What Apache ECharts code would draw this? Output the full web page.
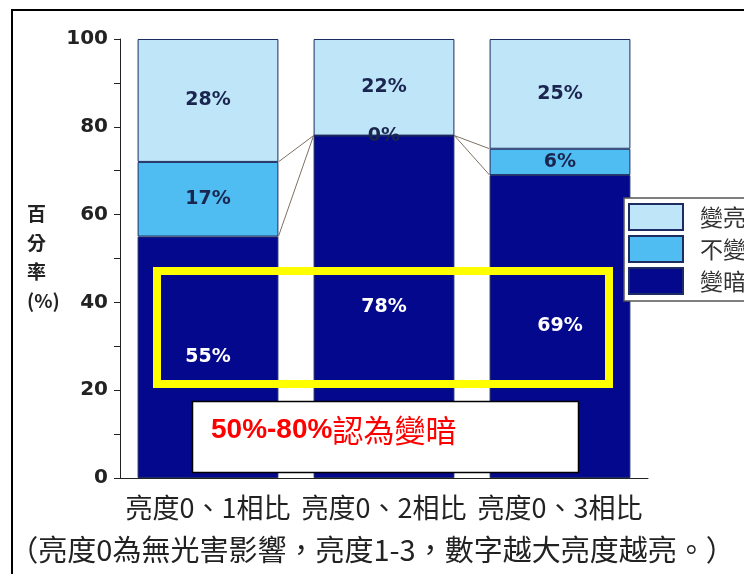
<!DOCTYPE html>
<html>
<head>
<meta charset="utf-8">
<style>
  html, body { margin: 0; padding: 0; background: #fff; }
  #chart { width: 744px; height: 574px; }
</style>
<script src="https://cdn.jsdelivr.net/npm/echarts@6/dist/echarts.min.js"></script>
</head>
<body>
<div id="chart"></div>
<script>
// Comparison groups and the share (%) of responses in each group
const categories = ['亮度0、1相比', '亮度0、2相比', '亮度0、3相比'];
const darker = [55, 78, 69];     // 變暗
const unchanged = [17, 0, 6];    // 不變
const brighter = [28, 22, 25];   // 變亮
const seriesNames = ['變亮', '不變', '變暗'];
const note = '（亮度0為無光害影響，亮度1-3，數字越大亮度越亮。）';
const callout = '50%-80%';
const calloutTail = '認為變暗';

const chart = echarts.init(document.getElementById('chart'), null, { renderer: 'canvas' });

const COLORS = { light: '#bfe5f8', mid: '#4fbdf2', dark: '#03088c' };
const NUM_FONT = "'DejaVu Sans', sans-serif";
const CJK_FONT = "'Noto Sans CJK TC', 'Noto Sans CJK SC', sans-serif";
const BAR_RATIO = 0.8;

const segLabel = (color) => ({
  show: true,
  position: 'inside',
  formatter: (p) => p.value + '%',
  color: color,
  fontFamily: NUM_FONT,
  fontWeight: 'bold',
  fontSize: 19
});

const border = { borderColor: '#1d2c63', borderWidth: 1 };

// Line segments joining the tops of the lower two segments of neighbouring bars
const joinData = categories.slice(0, -1).map((c, i) => [
  i,
  darker[i], darker[i] + unchanged[i],
  darker[i + 1], darker[i + 1] + unchanged[i + 1]
]);

chart.setOption({
  animation: false,
  grid: { left: 120, right: 96, top: 39, bottom: 96, containLabel: false },
  legend: {
    data: seriesNames,
    orient: 'vertical',
    left: 624,
    top: 198,
    padding: [5, 4, 6, 4],
    itemWidth: 54,
    itemHeight: 26,
    itemGap: 4,
    icon: 'rect',
    backgroundColor: '#fff',
    borderColor: '#555',
    borderWidth: 1.5,
    textStyle: { fontFamily: CJK_FONT, fontSize: 23, color: '#333', padding: [0, 0, 0, 12] },
    z: 20
  },
  xAxis: {
    type: 'category',
    data: categories,
    axisLine: { lineStyle: { color: '#222', width: 1 } },
    axisTick: { alignWithLabel: true, length: 5, lineStyle: { color: '#222' } },
    axisLabel: {
      interval: 0,
      margin: 16,
      color: '#222',
      fontFamily: CJK_FONT,
      fontSize: 27
    }
  },
  yAxis: {
    type: 'value',
    min: 0,
    max: 100,
    interval: 20,
    axisLine: { show: true, lineStyle: { color: '#222', width: 1 } },
    axisTick: { show: true, length: 6, lineStyle: { color: '#222' } },
    minorTick: { show: true, splitNumber: 2, length: 6, lineStyle: { color: '#222' } },
    splitLine: { show: false },
    axisLabel: {
      margin: 12,
      color: '#222',
      fontFamily: NUM_FONT,
      fontWeight: 'bold',
      fontSize: 20
    }
  },
  series: [
    {
      name: '變暗', type: 'bar', stack: 'total', data: darker,
      barWidth: (BAR_RATIO * 100) + '%',
      itemStyle: Object.assign({ color: COLORS.dark }, border),
      label: segLabel('#ffffff'), z: 2
    },
    {
      name: '不變', type: 'bar', stack: 'total', data: unchanged,
      itemStyle: Object.assign({ color: COLORS.mid }, border),
      label: segLabel('#1a2550'), z: 2
    },
    {
      name: '變亮', type: 'bar', stack: 'total', data: brighter,
      itemStyle: Object.assign({ color: COLORS.light }, border),
      label: segLabel('#1a2550'), z: 2
    },
    {
      type: 'custom',
      silent: true,
      z: 3,
      data: joinData,
      encode: { x: 0, y: 1 },
      renderItem: (params, api) => {
        const i = api.value(0);
        const half = api.size([1, 0])[0] * BAR_RATIO / 2;
        const a1 = api.coord([i, api.value(1)]);
        const b1 = api.coord([i, api.value(2)]);
        const a2 = api.coord([i + 1, api.value(3)]);
        const b2 = api.coord([i + 1, api.value(4)]);
        const style = { stroke: '#7d7060', lineWidth: 1, fill: null };
        return {
          type: 'group',
          children: [
            { type: 'line', shape: { x1: a1[0] + half, y1: a1[1], x2: a2[0] - half, y2: a2[1] }, style },
            { type: 'line', shape: { x1: b1[0] + half, y1: b1[1], x2: b2[0] - half, y2: b2[1] }, style }
          ]
        };
      }
    }
  ],
  graphic: [
    {
      type: 'rect', z: 50, silent: true,
      shape: { x: 12, y: 10, width: 800, height: 700 },
      style: { fill: null, stroke: '#000', lineWidth: 2 }
    },
    {
      type: 'text', z: 50, left: 27, top: 199,
      style: {
        text: '百\n分\n率\n(%)',
        fontFamily: CJK_FONT, fontSize: 19, fontWeight: 'bold',
        lineHeight: 29, align: 'center', fill: '#222'
      }
    },
    {
      type: 'text', z: 50, left: 'center', top: 535,
      style: { text: note, fontFamily: CJK_FONT, fontSize: 29, fill: '#222' }
    },
    {
      type: 'rect', z: 60, silent: true,
      shape: { x: 157, y: 271, width: 452, height: 113 },
      style: { fill: null, stroke: '#ffff00', lineWidth: 8 }
    },
    {
      type: 'rect', z: 60, silent: true,
      shape: { x: 192.5, y: 401.5, width: 386, height: 71 },
      style: { fill: '#fff', stroke: '#000', lineWidth: 1.5 }
    },
    {
      type: 'text', z: 61, left: 211, top: 415,
      style: {
        text: '{a|' + callout + '}{b|' + calloutTail + '}',
        rich: {
          a: { fontFamily: "'Liberation Sans', Arial, sans-serif", fontWeight: 'bold', fontSize: 28, fill: '#ff0000' },
          b: { fontFamily: CJK_FONT, fontSize: 31, fill: '#ff0000' }
        }
      }
    }
  ]
});
</script>
</body>
</html>
